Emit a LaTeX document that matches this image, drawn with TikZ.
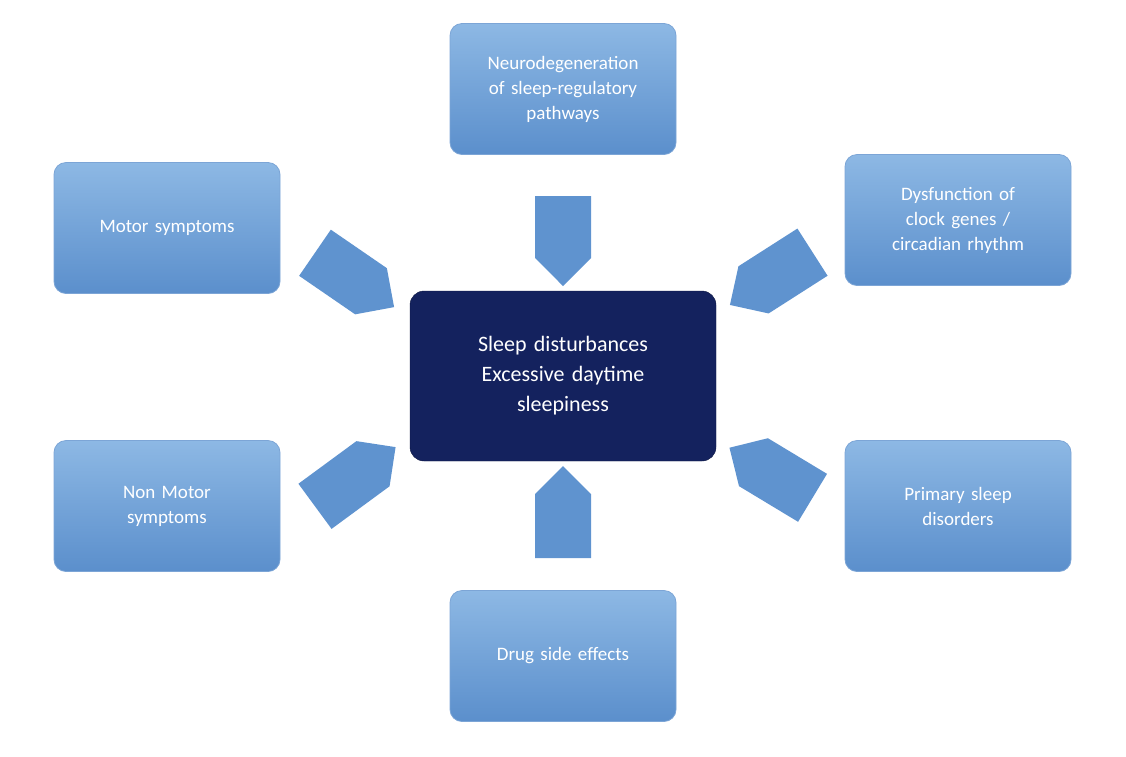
\documentclass[tikz,border=0pt]{standalone}
\usepackage{fontspec}
\setmainfont{Carlito}
\usetikzlibrary{shapes.arrows,calc}
\definecolor{boxtop}{HTML}{8DB8E4}
\definecolor{boxbot}{HTML}{5B8FCC}
\definecolor{arr}{HTML}{5F93CF}
\definecolor{navy}{HTML}{14225E}
\begin{document}
\begin{tikzpicture}[x=1pt,y=-1pt,
  box/.style={rounded corners=12pt, minimum width=226pt, minimum height=131pt,
    top color=boxtop, bottom color=boxbot, draw=boxbot!80!white, line width=0.8pt,
    text=white, font=\fontsize{19}{25}\selectfont, align=center, text width=200pt},
  core/.style={rounded corners=14pt, minimum width=306pt, minimum height=170pt,
    fill=navy, draw=navy!70!black, text=white,
    font=\fontsize{22}{30}\selectfont, align=center, text width=280pt},
  barr/.style={single arrow, fill=arr, draw=none, minimum width=56pt,
    single arrow head extend=0pt, inner sep=6.5pt, single arrow head indent=0pt}]
\useasboundingbox (0,0) rectangle (1126,756);
\node[box] (top) at (563,89) {Neurodegeneration\\of sleep-regulatory\\pathways};
\node[box] (motor) at (167,228) {Motor symptoms};
\node[box] (dys) at (958,220) {Dysfunction of\\clock genes /\\circadian rhythm};
\node[core] (c) at (563,376) {Sleep disturbances\\Excessive daytime\\sleepiness};
\node[box] (nm) at (167,506) {Non Motor\\symptoms};
\node[box] (ps) at (958,506) {Primary sleep\\disorders};
\node[box] (drug) at (563,656) {Drug side effects};
\node[barr, minimum height=90pt, rotate=-90] (a1) at (563,227) {};
\node[barr, minimum height=96pt, rotate=-34.5] (a2) at (343,272) {};
\node[barr, minimum height=98pt, rotate=-147.4] (a3) at (783,271) {};
\node[barr, minimum height=100pt, rotate=36.3] (a4) at (344,485) {};
\node[barr, minimum height=97pt, rotate=148.9] (a5) at (783,480) {};
\node[barr, minimum height=92pt, rotate=90] (a6) at (563,526) {};
\end{tikzpicture}
\end{document}
